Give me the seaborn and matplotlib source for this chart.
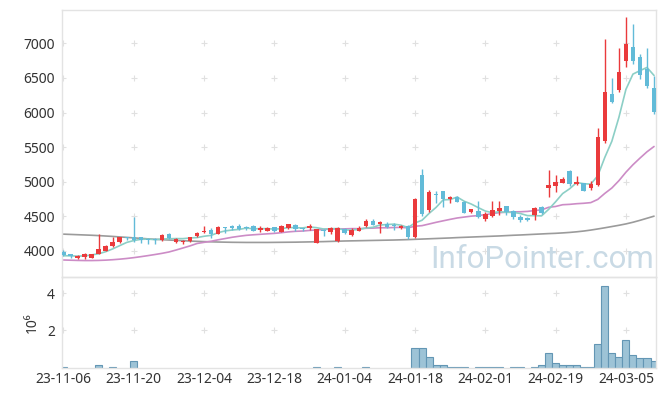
import numpy as np
import pandas as pd
import matplotlib
matplotlib.use("Agg")
import matplotlib.pyplot as plt
import seaborn as sns

# ---------------- data ----------------
holidays = ["2023-12-25", "2023-12-29", "2024-01-01", "2024-02-09", "2024-02-12", "2024-03-01"]
dates = pd.bdate_range("2023-11-06", periods=85, freq="C", holidays=holidays)

open_ = [3985, 3950, 3890, 3909, 3900, 3957, 4000, 4073, 4121, 4190,
         4193, 4193, 4165, 4160, 4155, 4241, 4126, 4121, 4136, 4208,
         4265, 4304, 4246, 4338, 4357, 4357, 4343, 4353, 4304, 4285,
         4343, 4275, 4323, 4372, 4318, 4323, 4116, 4300, 4275, 4145,
         4310, 4227, 4290, 4362, 4434, 4390, 4391, 4370, 4333, 4357,
         4203, 5095, 4589, 4810, 4860, 4744, 4772, 4709, 4560, 4579,
         4459, 4506, 4574, 4647, 4575, 4483, 4477, 4516, 4628, 4912,
         4941, 4984, 5158, 4961, 4975, 4912, 4951, 5590, 6268, 6325,
         6749, 6943, 6798, 6628, 6350]
high = [4015, 3960, 3940, 3965, 3955, 4237, 4085, 4203, 4200, 4200,
        4490, 4203, 4180, 4185, 4240, 4255, 4185, 4150, 4205, 4275,
        4362, 4333, 4357, 4343, 4375, 4386, 4357, 4367, 4353, 4340,
        4350, 4370, 4385, 4381, 4323, 4381, 4320, 4310, 4350, 4340,
        4333, 4333, 4357, 4453, 4463, 4425, 4415, 4405, 4376, 4372,
        4757, 5178, 4880, 4868, 4870, 4790, 4790, 4720, 4610, 4719,
        4560, 4724, 4724, 4652, 4590, 4518, 4490, 4627, 4647, 5167,
        5095, 5070, 5170, 5075, 4985, 5010, 5775, 7070, 6503, 6937,
        7380, 7276, 6842, 6928, 6530]
low = [3925, 3895, 3875, 3880, 3900, 3947, 3990, 4060, 4115, 4150,
       4130, 4107, 4095, 4095, 4145, 4165, 4112, 4098, 4125, 4195,
       4256, 4188, 4237, 4260, 4300, 4295, 4300, 4280, 4275, 4280,
       4275, 4265, 4320, 4285, 4290, 4295, 4105, 4220, 4240, 4125,
       4240, 4213, 4280, 4348, 4367, 4252, 4324, 4300, 4318, 4174,
       4188, 4502, 4560, 4685, 4630, 4686, 4700, 4540, 4550, 4468,
       4430, 4483, 4522, 4516, 4454, 4420, 4430, 4444, 4536, 4772,
       4854, 4975, 4941, 4955, 4860, 4880, 4930, 5560, 6140, 6290,
       6654, 6700, 6484, 6350, 5975]
close = [3940, 3925, 3928, 3957, 3947, 4025, 4073, 4131, 4193, 4180,
         4160, 4160, 4150, 4150, 4227, 4179, 4174, 4145, 4198, 4256,
         4275, 4237, 4343, 4323, 4323, 4318, 4333, 4290, 4333, 4323,
         4285, 4362, 4381, 4314, 4309, 4353, 4310, 4285, 4333, 4324,
         4252, 4300, 4333, 4434, 4376, 4415, 4338, 4360, 4362, 4203,
         4748, 4531, 4854, 4800, 4744, 4777, 4709, 4550, 4599, 4483,
         4531, 4589, 4618, 4556, 4483, 4444, 4440, 4613, 4541, 4951,
         4998, 5033, 4961, 4990, 4868, 4965, 5641, 6290, 6157, 6590,
         6991, 6749, 6542, 6387, 6011]
# volume in millions of shares
volume_m = [0.04, 0, 0, 0, 0, 0.13, 0, 0.04, 0, 0,
            0.34, 0, 0, 0, 0, 0, 0, 0, 0, 0,
            0, 0, 0, 0, 0, 0, 0, 0, 0, 0,
            0, 0, 0, 0, 0, 0, 0.04, 0, 0, 0.04,
            0, 0, 0, 0.04, 0, 0, 0, 0, 0, 0,
            1.03, 1.03, 0.54, 0.11, 0.11, 0.04, 0.04, 0.04, 0, 0.04,
            0.04, 0.04, 0.04, 0, 0.04, 0.04, 0, 0.04, 0.11, 0.76,
            0.22, 0.11, 0.16, 0.11, 0.04, 0.04, 1.24, 4.40, 0.76, 0.54,
            1.46, 0.65, 0.49, 0.49, 0.34]
# moving-average values before enough history exists
ma5_head = [3928, 3926, 3922, 3925]
ma20_head = [3866, 3863, 3860, 3858, 3858, 3860, 3864, 3870, 3878, 3888,
             3900, 3914, 3929, 3945, 3962, 3982, 4010, 4040, 4070]
ma60 = [4240, 4236, 4232, 4228, 4224, 4219, 4213, 4207, 4200, 4193,
        4186, 4179, 4172, 4166, 4160, 4155, 4150, 4145, 4140, 4136,
        4132, 4129, 4126, 4124, 4122, 4121, 4120, 4120, 4120, 4120,
        4121, 4122, 4123, 4124, 4126, 4128, 4130, 4132, 4135, 4138,
        4141, 4143, 4145, 4147, 4149, 4151, 4153, 4155, 4158, 4161,
        4165, 4169, 4173, 4177, 4181, 4185, 4190, 4194, 4198, 4202,
        4206, 4210, 4214, 4219, 4224, 4228, 4233, 4238, 4243, 4248,
        4252, 4258, 4265, 4274, 4285, 4299, 4315, 4332, 4350, 4368,
        4388, 4412, 4440, 4470, 4500]
tick_every = 10

# ---------------- frame ----------------
df = pd.DataFrame({"date": dates, "open": open_, "high": high, "low": low,
                   "close": close, "vol": volume_m, "ma60": ma60})
df["idx"] = np.arange(len(df))
ma5 = df["close"].rolling(5).mean()
ma5.iloc[:len(ma5_head)] = ma5_head
ma20 = df["close"].rolling(20).mean()
ma20.iloc[:len(ma20_head)] = ma20_head
df["ma5"] = ma5
df["ma20"] = ma20

sns.set_style("white")
plt.rcParams["font.family"] = ["Noto Sans", "DejaVu Sans"]

W, H = 665, 396
fig = plt.figure(figsize=(W / 100, H / 100), dpi=100)
ax = fig.add_axes([62 / W, 1 - 277 / H, 594 / W, 267 / H])
axv = fig.add_axes([62 / W, 1 - 367.5 / H, 594 / W, 90.5 / H])

RED = "#ea3a3c"
BLUE = "#62bbd8"
up = df["close"] >= df["open"]
colors = np.where(up, RED, BLUE)

# watermark
fig.text(430 / W, 1 - 268 / H, "InfoPointer.com", fontsize=22.5, color="#c9dae5",
         family=["Roboto", "DejaVu Sans"], ha="left", va="baseline", zorder=0)

# moving averages
sns.lineplot(data=df, x="idx", y="ma60", ax=ax, color="#9b9b9b", lw=1.2, zorder=2)
sns.lineplot(data=df, x="idx", y="ma20", ax=ax, color="#cc8cc6", lw=1.2, zorder=2)
sns.lineplot(data=df, x="idx", y="ma5", ax=ax, color="#8ccfc6", lw=1.2, zorder=2)

# candles
ax.vlines(df["idx"], df["low"], df["high"], colors=colors, lw=1.0, zorder=3)
body_bottom = np.minimum(df["open"], df["close"])
body_h = np.maximum(np.abs(df["close"] - df["open"]), 14)
ax.bar(df["idx"], body_h, bottom=body_bottom, width=0.64, color=colors, zorder=4, linewidth=0)

# volume
vdf = df[df["vol"] > 0]
sns.barplot(data=vdf, x="idx", y="vol", ax=axv, native_scale=True, width=1.0,
            color="#9dc3d6", edgecolor="#6396b4", linewidth=0.8, errorbar=None,
            saturation=1)

# axes styling
xlim = (-0.21, 84.28)
ax.set_xlim(*xlim)
axv.set_xlim(*xlim)
ax.set_ylim(3620, 7483)
axv.set_ylim(0, 4.86)

xt = list(range(0, len(df), tick_every))
yt = [4000, 4500, 5000, 5500, 6000, 6500, 7000]
ax.set_xticks(xt)
ax.set_xticklabels([])
ax.set_yticks(yt)
ax.set_yticklabels([str(v) for v in yt])
axv.set_xticks(xt)
axv.set_xticklabels([df["date"].iloc[i].strftime("%y-%m-%d") for i in xt])
axv.set_yticks([2, 4])
axv.set_yticklabels(["2", "4"])

for a in (ax, axv):
    a.set_xlabel("")
    a.set_ylabel("")
    a.tick_params(length=0, labelsize=10, labelcolor="#333333", pad=5)
    for s in a.spines.values():
        s.set_color("#e3e3e3")
        s.set_linewidth(1.0)
    a.set_facecolor("none")
axv.tick_params(axis="x", pad=3)
axv.set_ylabel("10\u2076", fontsize=10, color="#333333", labelpad=5)

# light '+' marks at grid intersections
gx, gy = np.meshgrid(xt, yt)
ax.plot(gx.ravel(), gy.ravel(), ls="none", marker="+", ms=4.5, mew=0.8, color="#e0e0e0", zorder=1)
gx2, gy2 = np.meshgrid(xt, [2, 4])
axv.plot(gx2.ravel(), gy2.ravel(), ls="none", marker="+", ms=4.5, mew=0.8, color="#e0e0e0", zorder=1)

fig.savefig("out.png", dpi=100)
